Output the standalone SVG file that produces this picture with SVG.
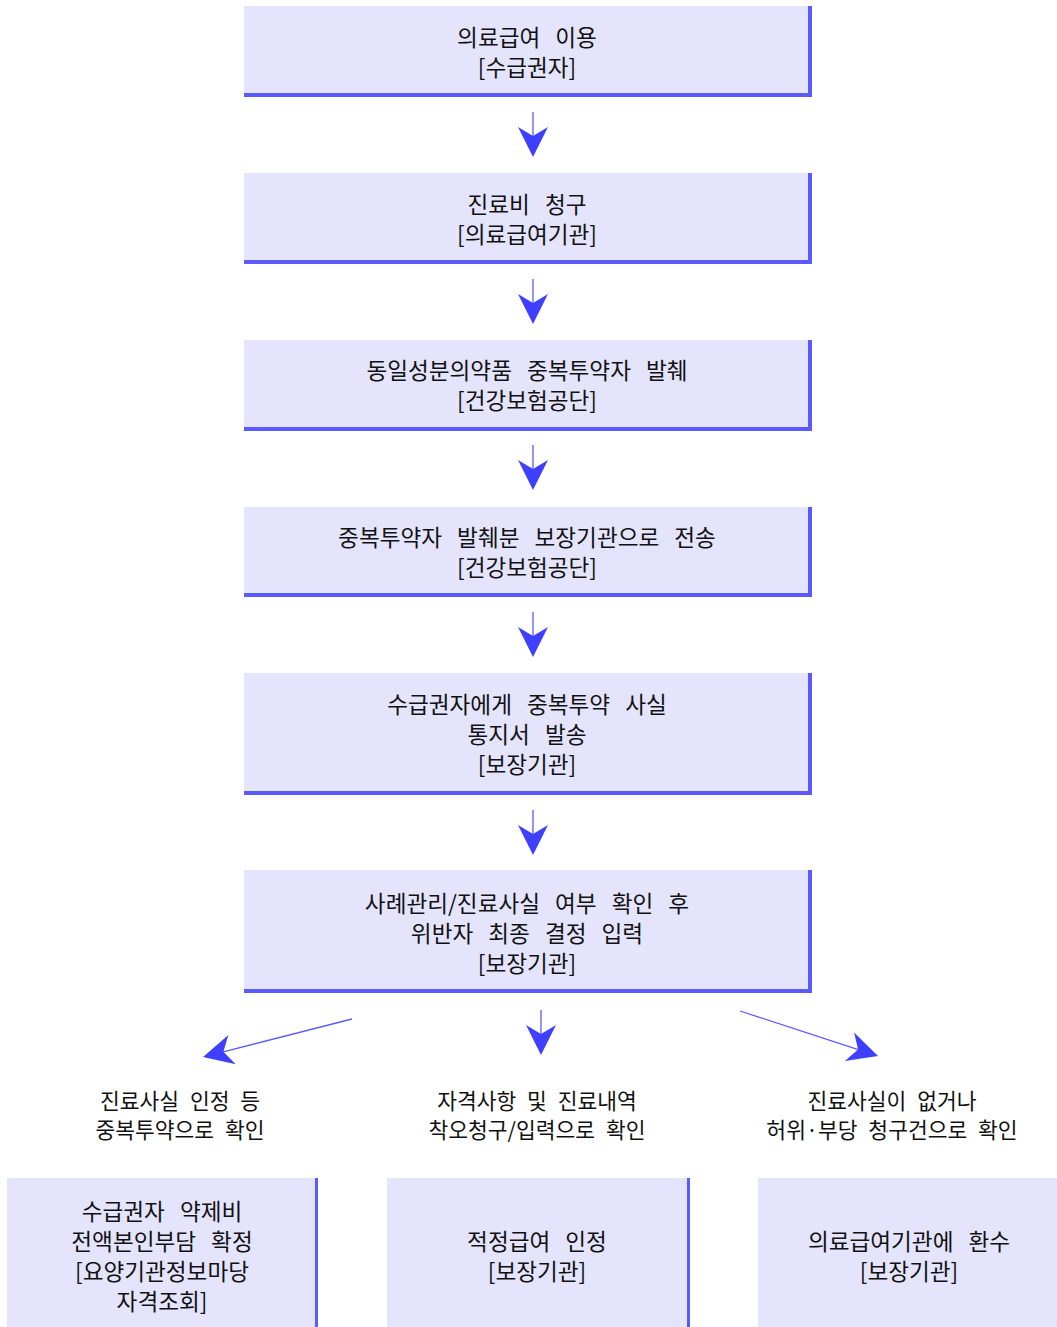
<svg xmlns="http://www.w3.org/2000/svg" width="1057" height="1327" viewBox="0 0 1057 1327">
<style>
.body{fill:#E4E4FC}
.bd{fill:#5A5AFF}
.t{font-family:"Noto Sans CJK KR","Noto Sans",sans-serif;font-size:22.6px;fill:#111111;text-anchor:middle;dominant-baseline:central;word-spacing:10px}
.l{font-family:"Noto Sans CJK KR","Noto Sans",sans-serif;font-size:21.5px;fill:#111111;text-anchor:middle;dominant-baseline:central;word-spacing:6px}
.c{stroke:#5A5AFF;stroke-width:1.3;fill:none;marker-end:url(#ah)}
</style>
<defs>
<marker id="ah" markerUnits="userSpaceOnUse" viewBox="-32 -16 33 32" markerWidth="33" markerHeight="32" refX="-20" refY="0" orient="auto">
<path d="M0,0 L-30,-15 L-21,0 L-30,15 Z" fill="#3F3FFF"/>
</marker>
</defs>
<rect width="1057" height="1327" fill="#ffffff"/>

<g id="n1">
<rect class="body" x="244" y="6" width="564" height="87"/>
<rect class="bd" x="808" y="6" width="4" height="91"/>
<rect class="bd" x="244" y="93" width="568" height="4"/>
<text class="t" x="527" y="36">의료급여 이용</text>
<text class="t" x="527" y="66">[수급권자]</text>
</g>
<g id="n2">
<rect class="body" x="244" y="173" width="564" height="87"/>
<rect class="bd" x="808" y="173" width="4" height="91"/>
<rect class="bd" x="244" y="260" width="568" height="4"/>
<text class="t" x="527" y="203">진료비 청구</text>
<text class="t" x="527" y="233">[의료급여기관]</text>
</g>
<g id="n3">
<rect class="body" x="244" y="340" width="564" height="87"/>
<rect class="bd" x="808" y="340" width="4" height="91"/>
<rect class="bd" x="244" y="427" width="568" height="4"/>
<text class="t" x="527" y="369">동일성분의약품 중복투약자 발췌</text>
<text class="t" x="527" y="399">[건강보험공단]</text>
</g>
<g id="n4">
<rect class="body" x="244" y="507" width="564" height="86"/>
<rect class="bd" x="808" y="507" width="4" height="90"/>
<rect class="bd" x="244" y="593" width="568" height="4"/>
<text class="t" x="527" y="536">중복투약자 발췌분 보장기관으로 전송</text>
<text class="t" x="527" y="566">[건강보험공단]</text>
</g>
<g id="n5">
<rect class="body" x="244" y="673" width="564" height="118"/>
<rect class="bd" x="808" y="673" width="4" height="122"/>
<rect class="bd" x="244" y="791" width="568" height="4"/>
<text class="t" x="527" y="703">수급권자에게 중복투약 사실</text>
<text class="t" x="527" y="733">통지서 발송</text>
<text class="t" x="527" y="763">[보장기관]</text>
</g>
<g id="n6">
<rect class="body" x="244" y="870" width="564" height="119"/>
<rect class="bd" x="808" y="870" width="4" height="123"/>
<rect class="bd" x="244" y="989" width="568" height="4"/>
<text class="t" x="527" y="902">사례관리/진료사실 여부 확인 후</text>
<text class="t" x="527" y="932">위반자 최종 결정 입력</text>
<text class="t" x="527" y="962">[보장기관]</text>
</g>

<g id="labels">
<text class="l" x="180" y="1099">진료사실 인정 등</text>
<text class="l" x="180" y="1128">중복투약으로 확인</text>
<text class="l" x="537" y="1099">자격사항 및 진료내역</text>
<text class="l" x="537" y="1128">착오청구/입력으로 확인</text>
<text class="l" x="892" y="1099">진료사실이 없거나</text>
<text class="l" x="892" y="1128">허위·부당 청구건으로 확인</text>
</g>

<g id="n7">
<rect class="body" x="7" y="1178" width="308" height="149"/>
<rect class="bd" x="315" y="1178" width="3" height="149"/>
<text class="t" x="162" y="1210">수급권자 약제비</text>
<text class="t" x="162" y="1240">전액본인부담 확정</text>
<text class="t" x="162" y="1270">[요양기관정보마당</text>
<text class="t" x="162" y="1300">자격조회]</text>
</g>
<g id="n8">
<rect class="body" x="387" y="1178" width="300" height="149"/>
<rect class="bd" x="687" y="1178" width="3" height="149"/>
<text class="t" x="537" y="1240">적정급여 인정</text>
<text class="t" x="537" y="1270">[보장기관]</text>
</g>
<g id="n9">
<rect class="body" x="758" y="1178" width="299" height="149"/>
<text class="t" x="909" y="1240">의료급여기관에 환수</text>
<text class="t" x="909" y="1270">[보장기관]</text>
</g>

<g id="connectors">
<path class="c" d="M533,112 L533,137"/>
<path class="c" d="M533,279 L533,304"/>
<path class="c" d="M533,445 L533,470"/>
<path class="c" d="M533,612 L533,637"/>
<path class="c" d="M533,810 L533,835"/>
<path class="c" d="M541,1010 L541,1035"/>
<path class="c" d="M352,1019 L222.4,1052.1"/>
<path class="c" d="M740,1011 L859,1049.8"/>
</g>
</svg>
